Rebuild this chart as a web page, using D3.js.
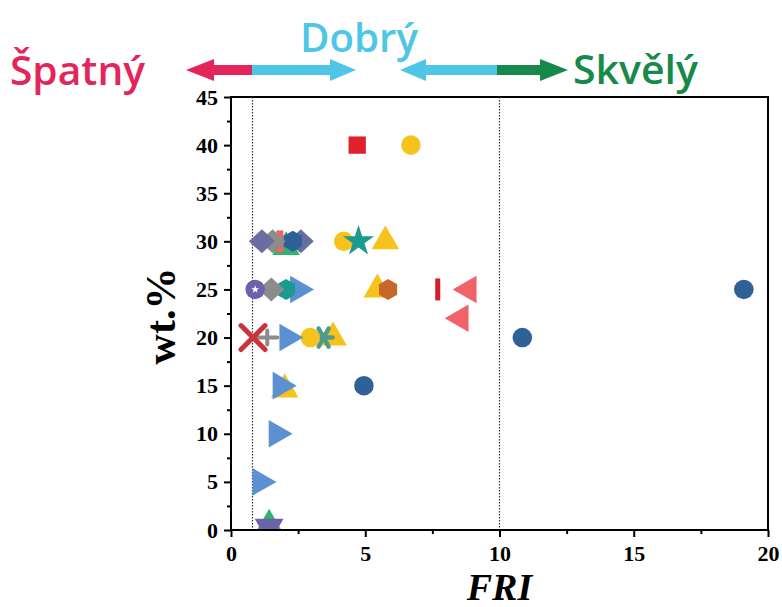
<!DOCTYPE html>
<html>
<head>
<meta charset="utf-8">
<script src="https://cdn.jsdelivr.net/npm/d3@7"></script>
<style>
  body { margin: 0; background: #fff; }
  svg { display: block; }
</style>
</head>
<body>
<svg id="chart" width="782" height="607"></svg>
<script>
/*************************************************
    Data:
 *************************************************/
// series names (marker kind + colour are looked up from these)
var seriesNames = ["yellowCircle", "redSquare", "yellowTriangle", "tealStar", "orangeHex",
    "redBar", "pinkLeftTri", "darkBlueCircle", "blueRightTri", "slateDiamond", "grayDiamond",
    "pinkBarSmall", "darkBlueHex", "purpleCircle", "tealCircle", "redX", "grayPlus",
    "tealAsterisk", "greenTriangle", "purpleDownTri"];

// [series, FRI, wt.%] in drawing order
var points = [
    ["greenTriangle", 2.05, 29.4],
    ["slateDiamond", 2.6, 30],
    ["darkBlueHex", 2.3, 30],
    ["pinkBarSmall", 1.82, 30],
    ["grayDiamond", 1.55, 30],
    ["slateDiamond", 1.15, 30],
    ["yellowCircle", 4.2, 30],
    ["tealStar", 4.75, 30],
    ["yellowTriangle", 5.75, 30],
    ["redSquare", 4.7, 40],
    ["yellowCircle", 6.7, 40],
    ["blueRightTri", 2.5, 25],
    ["tealCircle", 2.05, 25],
    ["grayDiamond", 1.5, 25],
    ["purpleCircle", 0.9, 25],
    ["yellowTriangle", 5.45, 25],
    ["orangeHex", 5.85, 25],
    ["redBar", 7.7, 25],
    ["pinkLeftTri", 8.85, 25],
    ["pinkLeftTri", 8.55, 22],
    ["darkBlueCircle", 19.1, 25],
    ["darkBlueCircle", 10.85, 20],
    ["darkBlueCircle", 4.95, 15],
    ["yellowTriangle", 3.8, 20],
    ["tealAsterisk", 3.45, 20],
    ["yellowCircle", 2.95, 20],
    ["blueRightTri", 2.1, 20],
    ["grayPlus", 1.35, 20],
    ["redX", 0.82, 20],
    ["yellowTriangle", 2.0, 14.6],
    ["blueRightTri", 1.85, 15],
    ["blueRightTri", 1.7, 10],
    ["blueRightTri", 1.1, 5],
    ["greenTriangle", 1.42, 0.55],
    ["purpleDownTri", 1.42, 0.3]
];

var xTicks = [0, 5, 10, 15, 20];
var yTicks = [0, 5, 10, 15, 20, 25, 30, 35, 40, 45];
var limitLines = [0.8, 10];
var zoneLabels = ["Špatný", "Dobrý", "Skvělý"];

/*************************************************
    Styles:
 *************************************************/
var style = {
    yellowCircle:   { kind: "circle",    color: "#f6c21c" },
    redSquare:      { kind: "square",    color: "#e2202c" },
    yellowTriangle: { kind: "triUp",     color: "#f6c21c" },
    tealStar:       { kind: "star",      color: "#1b9a8e" },
    orangeHex:      { kind: "hex",       color: "#c8672a" },
    redBar:         { kind: "bar",       color: "#d21f2b" },
    pinkLeftTri:    { kind: "triLeft",   color: "#f0636b" },
    darkBlueCircle: { kind: "circle",    color: "#2e6196" },
    blueRightTri:   { kind: "triRight",  color: "#5b90d2" },
    slateDiamond:   { kind: "diamond",   color: "#6a6d9f" },
    grayDiamond:    { kind: "diamond",   color: "#8c8c8c" },
    pinkBarSmall:   { kind: "wideBar",   color: "#f0636b" },
    darkBlueHex:    { kind: "hex",       color: "#2d5f98" },
    purpleCircle:   { kind: "circle",    color: "#6e60ae" },
    tealCircle:     { kind: "hex",       color: "#1c9a90" },
    redX:           { kind: "x",         color: "#c9333c" },
    grayPlus:       { kind: "plus",      color: "#8c8c8c" },
    tealAsterisk:   { kind: "asterisk",  color: "#4d9a8f" },
    greenTriangle:  { kind: "triUp",     color: "#2fb472" },
    purpleDownTri:  { kind: "triDown",   color: "#6b62a8" }
};

var svg = d3.select("#chart");
var margin = { left: 231, top: 97, right: 14, bottom: 77 };
var width = 782 - margin.left - margin.right,
    height = 607 - margin.top - margin.bottom;

var x = d3.scaleLinear().domain([0, 20]).range([0, width]);
var y = d3.scaleLinear().domain([0, 45]).range([height, 0]);

var g = svg.append("g").attr("transform", "translate(" + margin.left + "," + margin.top + ")");

svg.append("defs").append("clipPath").attr("id", "plotClip")
    .append("rect").attr("width", width).attr("height", height);

// dotted limit lines
g.selectAll("line.limit").data(limitLines).enter().append("line")
    .attr("class", "limit")
    .attr("x1", function(d) { return x(d); })
    .attr("x2", function(d) { return x(d); })
    .attr("y1", 0).attr("y2", height)
    .attr("stroke", "#333").attr("stroke-width", 1.2)
    .attr("stroke-dasharray", "1.5,1.5");

/*************************************************
    Markers:
 *************************************************/
function markerPath(kind) {
    var p;
    switch (kind) {
        case "circle": return d3.symbol(d3.symbolCircle, 300)();
        case "square": return d3.symbol(d3.symbolSquare, 300)();
        case "triUp":
        case "triLeft":
        case "triRight": return d3.symbol(d3.symbolTriangle, 330)();
        case "triDown": return d3.symbol(d3.symbolTriangle, 360)();
        case "star": return d3.symbol(d3.symbolStar, 300)();
        case "diamond":
            return "M-13,0L0,-12L13,0L0,12Z";
        case "hex":
            p = d3.range(6).map(function(i) {
                var a = Math.PI / 3 * i + Math.PI / 6;
                return [10.5 * Math.cos(a), 10.5 * Math.sin(a)];
            });
            return "M" + p.join("L") + "Z";
        case "bar": return "M-2.5,-11h5v22h-5Z";
        case "wideBar": return "M-3.5,-11h7v22h-7Z";
        case "x": return "M-12,-12L12,12M12,-12L-12,12";
        case "plus": return "M-11,0H10M0,-7V7";
        case "asterisk": return "M-9,0H9M-5,-9L5,9M5,-9L-5,9";
    }
}

function rotation(kind) {
    if (kind === "triRight") return 90;
    if (kind === "triLeft") return -90;
    if (kind === "triDown") return 180;
    return 0;
}

var lineKinds = { x: 5, plus: 4, asterisk: 4.5 };

var marks = g.append("g").attr("clip-path", "url(#plotClip)");
marks.selectAll("path.mark").data(points).enter().append("path")
    .attr("class", "mark")
    .attr("transform", function(d) {
        var k = style[d[0]].kind;
        return "translate(" + x(d[1]) + "," + y(d[2]) + ") rotate(" + rotation(k) + ")";
    })
    .attr("d", function(d) { return markerPath(style[d[0]].kind); })
    .attr("fill", function(d) { return lineKinds[style[d[0]].kind] ? "none" : style[d[0]].color; })
    .attr("stroke", function(d) { return lineKinds[style[d[0]].kind] ? style[d[0]].color : "none"; })
    .attr("stroke-width", function(d) { return lineKinds[style[d[0]].kind] || 0; })
    .attr("stroke-linecap", "round")
    .attr("stroke-linejoin", "round");

// little white star inside the purple circle
marks.selectAll("path.inner").data(points.filter(function(d) { return d[0] === "purpleCircle"; }))
    .enter().append("path")
    .attr("transform", function(d) { return "translate(" + x(d[1]) + "," + y(d[2]) + ")"; })
    .attr("d", d3.symbol(d3.symbolStar, 20)())
    .attr("fill", "#fff");

/*************************************************
    Axes and frame:
 *************************************************/
var tickFont = "Liberation Serif, Times New Roman, serif";

var xAxis = d3.axisBottom(x).tickValues(xTicks).tickSize(7).tickPadding(8).tickFormat(d3.format("d"));
var xMinor = d3.axisBottom(x).tickValues(d3.range(2.5, 20, 5)).tickSize(4).tickFormat("");
var yAxis = d3.axisLeft(y).tickValues(yTicks).tickSize(7).tickPadding(6).tickFormat(d3.format("d"));
var yMinor = d3.axisLeft(y).tickValues(d3.range(2.5, 45, 5)).tickSize(4).tickFormat("");

function styleAxis(sel) {
    sel.select(".domain").remove();
    sel.selectAll("line").attr("stroke", "#000").attr("stroke-width", 2);
    sel.selectAll("text").attr("fill", "#000")
        .style("font-family", tickFont).style("font-weight", "bold").style("font-size", "22px");
}

g.append("g").attr("transform", "translate(0," + height + ")").call(xAxis).call(styleAxis);
g.append("g").attr("transform", "translate(0," + height + ")").call(xMinor).call(styleAxis);
g.append("g").call(yAxis).call(styleAxis);
g.append("g").call(yMinor).call(styleAxis);

g.append("rect").attr("width", width).attr("height", height)
    .attr("fill", "none").attr("stroke", "#000").attr("stroke-width", 2);

svg.append("text")
    .attr("transform", "translate(175,316) rotate(-90)")
    .attr("text-anchor", "middle")
    .style("font-family", tickFont).style("font-weight", "bold").style("font-size", "42px")
    .text("wt.%");

svg.append("text")
    .attr("x", margin.left + x(10)).attr("y", 600)
    .attr("text-anchor", "middle")
    .style("font-family", tickFont).style("font-weight", "bold").style("font-style", "italic")
    .style("font-size", "38px")
    .text("FRI");

/*************************************************
    Zone arrows and labels:
 *************************************************/
var zoneColors = ["#e3255b", "#4ec6e6", "#17894a"];
var ay = 70;

function shaft(x0, x1, color) {
    svg.append("rect").attr("x", x0).attr("y", ay - 5).attr("width", x1 - x0).attr("height", 10)
        .attr("fill", color);
}
function head(base, tip, color) {
    svg.append("path")
        .attr("d", "M" + base + "," + (ay - 11) + "L" + tip + "," + ay + "L" + base + "," + (ay + 11) + "Z")
        .attr("fill", color);
}

shaft(212, 253, zoneColors[0]);
head(214, 186, zoneColors[0]);
shaft(252, 332, zoneColors[1]);
head(330, 356, zoneColors[1]);

shaft(424, 498, zoneColors[1]);
head(426, 400, zoneColors[1]);
shaft(497, 542, zoneColors[2]);
head(540, 568, zoneColors[2]);

var labelPos = [[10, 85, 135], [300, 52, 118], [573, 84, 125]];
svg.selectAll("text.zone").data(zoneLabels).enter().append("text")
    .attr("class", "zone")
    .attr("x", function(d, i) { return labelPos[i][0]; })
    .attr("y", function(d, i) { return labelPos[i][1]; })
    .attr("textLength", function(d, i) { return labelPos[i][2]; })
    .attr("lengthAdjust", "spacingAndGlyphs")
    .attr("fill", function(d, i) { return zoneColors[i]; })
    .style("font-family", "Open Sans, Noto Sans, sans-serif")
    .style("font-weight", "600")
    .style("font-size", "40px")
    .text(function(d) { return d; });
</script>
</body>
</html>
